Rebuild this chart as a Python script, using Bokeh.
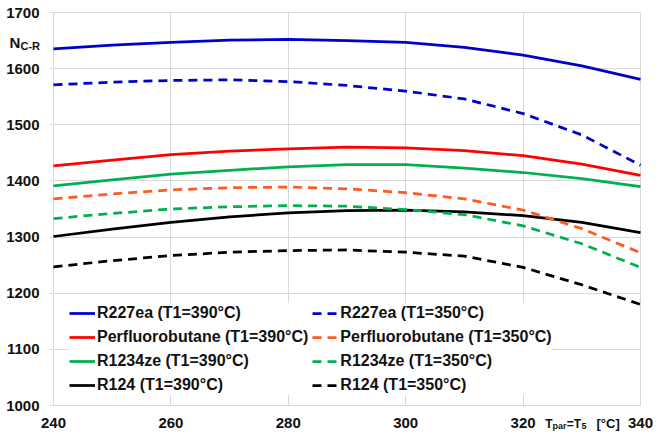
from bokeh.plotting import figure
from bokeh.models import (Legend, LegendItem, Label, SingleIntervalTicker, Range1d)
from bokeh.embed import file_html
from bokeh.resources import INLINE

# ---- data ----
t_par = [240, 250, 260, 270, 280, 290, 300, 310, 320, 330, 340]
r227ea_390 = [1635, 1642, 1647, 1651, 1652, 1650, 1647, 1638, 1624, 1605, 1581]
r227ea_350 = [1571, 1576, 1579, 1580, 1577, 1570, 1560, 1546, 1520, 1482, 1428]
pfb_390 = [1427, 1437, 1447, 1453, 1457, 1460, 1459, 1454, 1445, 1430, 1410]
pfb_350 = [1368, 1377, 1384, 1388, 1389, 1386, 1379, 1368, 1348, 1315, 1272]
r1234ze_390 = [1391, 1402, 1412, 1419, 1425, 1429, 1429, 1423, 1415, 1404, 1390]
r1234ze_350 = [1333, 1342, 1350, 1354, 1356, 1355, 1349, 1340, 1320, 1288, 1246]
r124_390 = [1301, 1314, 1326, 1336, 1343, 1347, 1348, 1345, 1338, 1326, 1308]
r124_350 = [1247, 1258, 1267, 1273, 1276, 1277, 1273, 1266, 1246, 1215, 1180]

labels_390 = ["R227ea (T1=390°C)", "Perfluorobutane (T1=390°C)",
              "R1234ze (T1=390°C)", "R124 (T1=390°C)"]
labels_350 = ["R227ea (T1=350°C)", "Perfluorobutane (T1=350°C)",
              "R1234ze (T1=350°C)", "R124 (T1=350°C)"]
colors_390 = ["#0000CC", "#FF0000", "#00B050", "#000000"]
colors_350 = ["#0000CC", "#FF5A1F", "#00B050", "#000000"]

X_MIN, X_MAX, X_STEP = 240, 340, 20
Y_MIN, Y_MAX, Y_STEP = 1000, 1700, 100

FONT = "Liberation Sans"
GRID = "#D9D9D9"

# canvas geometry: the data area sits inside margins, the frame covers
# the whole canvas so that the axis titles can be drawn in the margins
W, H = 653, 431
ML, MR, MT, MB = 53, 13, 12, 26
FW, FH = W - ML - MR, H - MT - MB
ux = (X_MAX - X_MIN) / FW
uy = (Y_MAX - Y_MIN) / FH

p = figure(width=W, height=H, output_backend="svg", toolbar_location=None,
           x_range=Range1d(X_MIN - ML * ux, X_MAX + MR * ux),
           y_range=Range1d(Y_MIN - MB * uy, Y_MAX + MT * uy),
           min_border=0, background_fill_color="white",
           border_fill_color="white")
p.outline_line_color = None
p.grid.visible = False

p.xaxis.ticker = SingleIntervalTicker(interval=X_STEP)
p.yaxis.ticker = SingleIntervalTicker(interval=Y_STEP)
p.xaxis.fixed_location = Y_MIN
p.yaxis.fixed_location = X_MIN
p.xaxis.bounds = (X_MIN, X_MAX)
p.yaxis.bounds = (Y_MIN, Y_MAX)
for ax in (p.xaxis, p.yaxis):
    ax.level = "underlay"
    ax.axis_line_color = GRID
    ax.major_tick_line_color = GRID
    ax.major_tick_line_width = 1
    ax.minor_tick_line_color = None
    ax.major_label_text_font = FONT
    ax.major_label_text_font_style = "bold"
    ax.major_label_text_font_size = "15px"
    ax.major_label_text_color = "#111111"
# long inward ticks serve as the grid
p.xaxis.major_tick_out = 0
p.xaxis.major_tick_in = FH
p.xaxis.major_label_standoff = 8
p.yaxis.major_tick_out = 4
p.yaxis.major_tick_in = FW
p.yaxis.major_label_standoff = 10

series_390 = [r227ea_390, pfb_390, r1234ze_390, r124_390]
series_350 = [r227ea_350, pfb_350, r1234ze_350, r124_350]

items_390 = []
items_350 = []
for ys, c, lab in zip(series_390, colors_390, labels_390):
    r = p.line(t_par, ys, line_color=c, line_width=2.75)
    items_390.append(LegendItem(label=lab, renderers=[r]))
for ys, c, lab in zip(series_350, colors_350, labels_350):
    r = p.line(t_par, ys, line_color=c, line_width=2.75, line_dash="9 6")
    items_350.append(LegendItem(label=lab, renderers=[r]))

legend = Legend(items=items_390 + items_350, location=(ML + 16, MB + 10),
                orientation="vertical", nrows=4, ncols=2,
                label_text_font=FONT, label_text_font_style="bold",
                label_text_font_size="16px", label_text_color="#111111",
                glyph_width=26, glyph_height=20, label_height=20,
                label_standoff=2, spacing=4, padding=5, margin=0,
                background_fill_color="white", background_fill_alpha=1.0,
                border_line_color=None)
p.add_layout(legend, "center")


def add_text(x, y, dx, dy, txt, size):
    p.add_layout(Label(x=x, y=y, x_offset=dx, y_offset=dy, text=txt,
                       text_font=FONT, text_font_style="bold",
                       text_font_size=size, text_baseline="alphabetic",
                       text_align="left", text_color="#111111"))


# y-axis title N_C-R (top left, beside the tick labels)
add_text(X_MIN, Y_MAX, -44, -30, "N", "15px")
add_text(X_MIN, Y_MAX, -33, -33, "C-R", "11px")

# x-axis title T_par=T_5 [°C] (between the 320 and 340 tick labels)
for txt, dx, dy, fs in [("T", -95.3, -18, "12px"), ("par", -88, -20.5, "9px"),
                        ("=T", -73.7, -18, "12px"), ("5", -59, -20.5, "9px"),
                        ("[°C]", -44, -18, "13px")]:
    add_text(X_MAX, Y_MIN, dx, dy, txt, fs)

open("out.html", "w").write(file_html(p, INLINE))
